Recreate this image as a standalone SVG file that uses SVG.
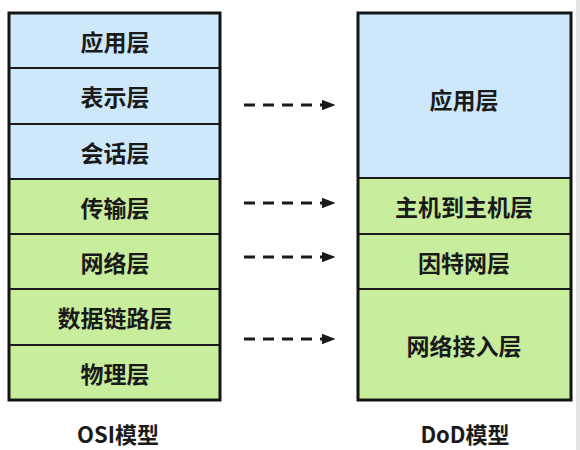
<svg xmlns="http://www.w3.org/2000/svg" width="580" height="450" viewBox="0 0 580 450">
<defs>
<style>
.blue{fill:#cde8fb;stroke:#1a1a1a;stroke-width:2}
.green{fill:#c8ed9c;stroke:#1a1a1a;stroke-width:2}
.t{font-family:"Noto Sans CJK SC","Liberation Sans",sans-serif;font-weight:bold;font-size:23px;fill:#1a1a1a;text-anchor:middle;dominant-baseline:central}
.cap{font-family:"Noto Sans CJK SC","Liberation Sans",sans-serif;font-weight:bold;font-size:22px;fill:#1a1a1a;text-anchor:middle;dominant-baseline:central}
.frame{fill:none;stroke:#141414;stroke-width:3}
.arr{stroke:#1a1a1a;stroke-width:3;stroke-dasharray:11,8;fill:none}
</style>
<marker id="ah" viewBox="0 0 10 10" refX="9" refY="5" markerWidth="4.5" markerHeight="3.5" orient="auto" markerUnits="strokeWidth" preserveAspectRatio="none">
<path d="M0,0 L10,5 L0,10 z" fill="#1a1a1a"/>
</marker>
</defs>
<rect width="580" height="450" fill="#ffffff"/>
<rect x="576" y="0" width="4" height="450" fill="#e4e4e4"/>
<g id="osi">
<g id="osi-app"><rect class="blue" x="9" y="13" width="211" height="55"/><text class="t" x="115" y="41">应用层</text></g>
<g id="osi-pres"><rect class="blue" x="9" y="68" width="211" height="56"/><text class="t" x="115" y="96">表示层</text></g>
<g id="osi-sess"><rect class="blue" x="9" y="124" width="211" height="55"/><text class="t" x="115" y="152">会话层</text></g>
<g id="osi-trans"><rect class="green" x="9" y="179" width="211" height="55"/><text class="t" x="115" y="207">传输层</text></g>
<g id="osi-net"><rect class="green" x="9" y="234" width="211" height="55"/><text class="t" x="115" y="262">网络层</text></g>
<g id="osi-link"><rect class="green" x="9" y="289" width="211" height="56"/><text class="t" x="115" y="317">数据链路层</text></g>
<g id="osi-phys"><rect class="green" x="9" y="345" width="211" height="55"/><text class="t" x="115" y="373">物理层</text></g>
<rect class="frame" x="9" y="13" width="211" height="387"/>
<text class="cap" x="118" y="433">OSI模型</text>
</g>
<g id="dod">
<g id="dod-app"><rect class="blue" x="358" y="13" width="213" height="165"/><text class="t" x="464" y="99">应用层</text></g>
<g id="dod-host"><rect class="green" x="358" y="178" width="213" height="56"/><text class="t" x="464" y="206">主机到主机层</text></g>
<g id="dod-inet"><rect class="green" x="358" y="234" width="213" height="55"/><text class="t" x="464" y="262">因特网层</text></g>
<g id="dod-access"><rect class="green" x="358" y="289" width="213" height="111"/><text class="t" x="464" y="345">网络接入层</text></g>
<rect class="frame" x="358" y="13" width="213" height="387"/>
<text class="cap" x="465" y="433">DoD模型</text>
</g>
<g id="connectors">
<line class="arr" x1="244" y1="105" x2="334" y2="105" marker-end="url(#ah)"/>
<line class="arr" x1="244" y1="203" x2="334" y2="203" marker-end="url(#ah)"/>
<line class="arr" x1="244" y1="257" x2="334" y2="257" marker-end="url(#ah)"/>
<line class="arr" x1="244" y1="339" x2="334" y2="339" marker-end="url(#ah)"/>
</g>
</svg>
